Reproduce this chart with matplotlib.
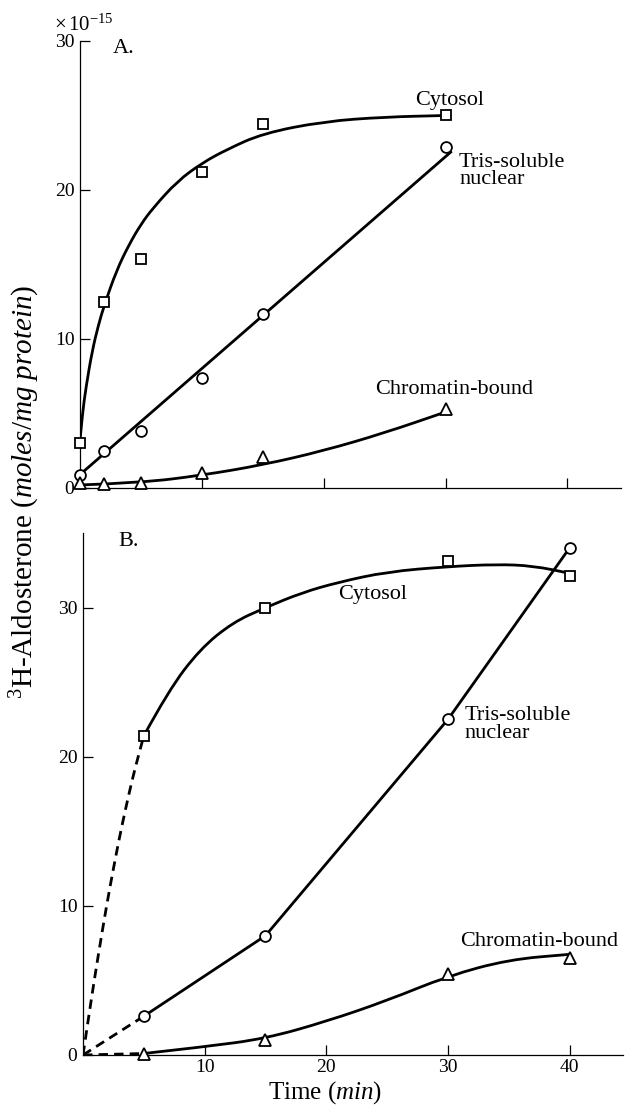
import matplotlib
matplotlib.use("Agg")
import matplotlib.pyplot as plt
from matplotlib.path import Path
from matplotlib.patches import PathPatch

plt.rcParams['font.family'] = 'Liberation Serif'
plt.rcParams['mathtext.fontset'] = 'custom'
plt.rcParams['mathtext.rm'] = 'Liberation Serif'
plt.rcParams['mathtext.it'] = 'Liberation Serif:italic'

# A: short incubation, measured points (min, x10^-15 mol/mg)
a_time = [0, 2, 5, 10, 15, 30]
a_cytosol = [3.0, 12.5, 15.4, 21.2, 24.4, 25.0]
a_tris = [0.9, 2.5, 3.8, 7.4, 11.7, 22.9]
a_chromatin = [0.3, 0.25, 0.35, 1.0, 2.1, 5.3]

# A: hand-drawn fit lines
a_cyt_fit_x = [0, 0.2, 0.5, 1, 1.5, 2, 3, 4, 5, 6, 8, 10, 12, 15, 20, 25, 30]
a_cyt_fit_y = [3.2, 5.0, 6.8, 9.2, 10.9, 12.3, 14.6, 16.3, 17.7, 18.8, 20.6, 21.8, 22.7, 23.8, 24.6, 24.9, 25.0]
a_tris_fit_x = [0, 30.5]
a_tris_fit_y = [0.9, 22.6]
a_chrom_fit_x = [0, 5, 10, 15, 20, 25, 30]
a_chrom_fit_y = [0.2, 0.35, 0.85, 1.55, 2.5, 3.7, 5.1]

# B: longer incubation
b_time = [5, 15, 30, 40]
b_cytosol = [21.4, 30.0, 33.1, 32.1]
b_tris = [2.6, 8.0, 22.5, 34.0]
b_chromatin = [0.1, 1.0, 5.4, 6.5]

b_cyt_dash_x = [0, 0.5, 1, 1.5, 2, 2.5, 3, 3.5, 4, 4.5, 5]
b_cyt_dash_y = [0, 2.75, 5.4, 7.9, 10.3, 12.5, 14.6, 16.5, 18.3, 19.9, 21.4]
b_cyt_fit_x = [5, 7, 9.6, 12.3, 15, 18, 21, 25, 30, 34, 37, 40]
b_cyt_fit_y = [21.4, 24.4, 27.2, 29.0, 30.0, 31.0, 31.7, 32.4, 32.75, 32.9, 32.8, 32.3]
b_tris_dash_x = [0, 5]
b_tris_dash_y = [0, 2.6]
b_chrom_dash_x = [0, 5]
b_chrom_dash_y = [0, 0.1]
b_chrom_fit_x = [5, 10, 15, 20, 25, 30, 35, 40]
b_chrom_fit_y = [0.1, 0.55, 1.1, 2.25, 3.65, 5.3, 6.4, 6.75]

LW = 2.0
DASH = (0, (3.4, 2.2))
mk = dict(linestyle='none', mfc='white', mec='black', mew=1.3, zorder=5, clip_on=False)
TXT = 16

fig = plt.figure(figsize=(6.25, 11.05), dpi=100)
ax_a = fig.add_axes([0.128, 0.5584, 0.8648, 0.4045])
ax_b = fig.add_axes([0.1328, 0.04525, 0.8632, 0.4724])


def curve(ax, xs, ys, ls='solid'):
    # smooth line through the traced points (quadratic bezier pieces)
    pts = list(zip(xs, ys))
    verts = [pts[0]]
    codes = [Path.MOVETO]
    for i in range(1, len(pts) - 1):
        mid = ((pts[i][0] + pts[i + 1][0]) / 2, (pts[i][1] + pts[i + 1][1]) / 2)
        verts += [pts[i], mid]
        codes += [Path.CURVE3, Path.CURVE3]
    verts.append(pts[-1])
    codes.append(Path.LINETO)
    ax.add_patch(PathPatch(Path(verts, codes), fill=False, lw=LW, ec='black',
                           linestyle=ls, capstyle='butt', zorder=3))


def style(ax, ymax, yticks, xlabels):
    ax.set_xlim(0, 44.35)
    ax.set_ylim(0, ymax)
    for s in ('top', 'right'):
        ax.spines[s].set_visible(False)
    for s in ('left', 'bottom'):
        ax.spines[s].set_linewidth(0.9)
    ax.set_xticks([10, 20, 30, 40])
    ax.set_yticks(yticks)
    ax.tick_params(direction='in', length=7, width=0.9, labelsize=14, pad=3)
    ax.tick_params(axis='y', pad=4)
    if not xlabels:
        ax.set_xticklabels([])


# panel A
style(ax_a, 30, [0, 10, 20, 30], False)
curve(ax_a, a_cyt_fit_x, a_cyt_fit_y)
curve(ax_a, a_tris_fit_x, a_tris_fit_y)
curve(ax_a, a_chrom_fit_x, a_chrom_fit_y)
ax_a.plot(a_time, a_cytosol, marker='s', ms=7.5, **mk)
ax_a.plot(a_time, a_tris, marker='o', ms=7.8, **mk)
ax_a.plot(a_time, a_chromatin, marker='^', ms=9, **mk)
ax_a.text(2.7, 29.5, 'A.', fontsize=TXT, va='center', ha='left')
ax_a.text(30.3, 26.0, 'Cytosol', fontsize=TXT, ha='center', va='center')
ax_a.text(31.1, 22.5, 'Tris-soluble\nnuclear', fontsize=TXT, ha='left', va='top',
          linespacing=0.9)
ax_a.text(30.7, 6.6, 'Chromatin-bound', fontsize=TXT, ha='center', va='center')

# panel B
style(ax_b, 35, [0, 10, 20, 30], True)
curve(ax_b, b_cyt_dash_x, b_cyt_dash_y, DASH)
curve(ax_b, b_cyt_fit_x, b_cyt_fit_y)
curve(ax_b, b_tris_dash_x, b_tris_dash_y, DASH)
ax_b.plot(b_time, b_tris, color='black', lw=LW, zorder=3)
curve(ax_b, b_chrom_dash_x, b_chrom_dash_y, DASH)
curve(ax_b, b_chrom_fit_x, b_chrom_fit_y)
ax_b.plot(b_time, b_cytosol, marker='s', ms=7.5, **mk)
ax_b.plot(b_time, b_tris, marker='o', ms=7.8, **mk)
ax_b.plot(b_time, b_chromatin, marker='^', ms=9, **mk)
ax_b.text(2.9, 34.4, 'B.', fontsize=TXT, va='center', ha='left')
ax_b.text(23.8, 30.9, 'Cytosol', fontsize=TXT, ha='center', va='center')
ax_b.text(31.4, 23.4, 'Tris-soluble\nnuclear', fontsize=TXT, ha='left', va='top',
          linespacing=0.9)
ax_b.text(37.5, 7.6, 'Chromatin-bound', fontsize=TXT, ha='center', va='center')
ax_b.set_xlabel(r'Time ($min$)', fontsize=18)
ax_b.xaxis.label.set_va('baseline')
ax_b.xaxis.set_label_coords(0.449, -0.0835)

fig.text(0.086, 1 - 31 / 1105, r'$\times\,10^{-15}$', fontsize=15, ha='left', va='baseline')
fig.text(25 / 625, 1 - 492 / 1105, r'$^3$H-Aldosterone ($moles/mg\ protein$)',
         fontsize=21, rotation=90, ha='center', va='center')

fig.savefig('out.png', dpi=100)
